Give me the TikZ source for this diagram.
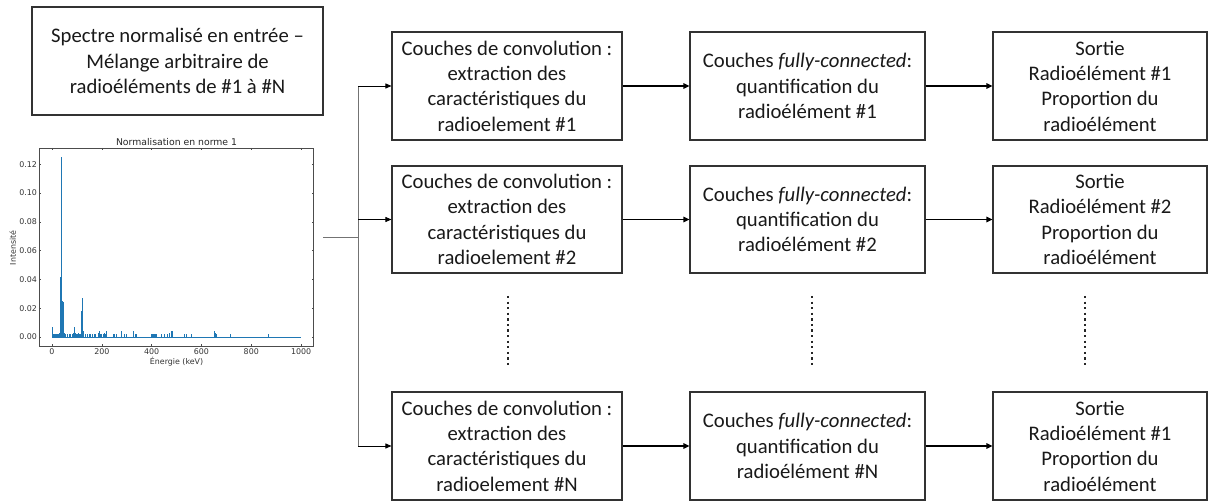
\documentclass[tikz,border=0pt]{standalone}
\usepackage{fontspec}
\setmainfont{Carlito}
\newfontfamily\plotfont{DejaVu Sans}
\usetikzlibrary{arrows.meta}
\definecolor{mplblue}{RGB}{31,119,180}
\definecolor{boxline}{RGB}{50,50,50}
\tikzset{
  blk/.style={draw=boxline, line width=1.1pt, align=center, inner sep=2pt,
    font=\fontsize{20.7pt}{25.3pt}\selectfont, text=black!90},
  feed/.style={draw=black!55, line width=0.8pt},
  thinarrow/.style={draw=black, line width=0.8pt, -{Triangle[length=6pt,width=5pt]}},
  thickarrow/.style={draw=black, line width=1.6pt, -{Triangle[length=6pt,width=5.5pt]}},
  dotline/.style={draw=black!85, line width=2.2pt, dash pattern=on 2.2pt off 3.38pt},
  ticklab/.style={font=\plotfont\fontsize{7.9pt}{9pt}\selectfont, text=black!80, inner sep=1pt},
  spike/.style={draw=mplblue, line width=0.7pt},
}
\begin{document}
\begin{tikzpicture}[x=1pt, y=-1pt]
\useasboundingbox (0,0) rectangle (1208,502);

% input box
\node[blk, minimum width=291pt, minimum height=108pt] (inbox) at (177.5,61)
  {Spectre normalisé en entrée –\\Mélange arbitraire de\\radioéléments de \#1 à \#N};

% spectrum plot
\begin{scope}[shift={(52pt,-337pt)}, x=0.2491pt, y=1440pt]
  \draw[black!70, line width=0.6pt] (-50,-0.00625) rectangle (1050,0.13125);
  \foreach \e in {0,200,400,600,800,1000} {
    \draw[black!70, line width=0.5pt] (\e,-0.00625) -- ++(0,0.0015);
    \draw[black!70, line width=0.5pt] (\e,0.13125) -- ++(0,-0.0015);
    \node[ticklab, anchor=north] (xt\e) at (\e,-0.0072) {\e};
  }
  \foreach \v/\l in {0/0.00,0.02/0.02,0.04/0.04,0.06/0.06,0.08/0.08,0.10/0.10,0.12/0.12} {
    \draw[black!70, line width=0.5pt] (-50,\v) -- ++(7,0);
    \draw[black!70, line width=0.5pt] (1050,\v) -- ++(-7,0);
    \node[ticklab, anchor=east] (yt\l) at (-56,\v) {\l};
  }
  \node[font=\plotfont\fontsize{9.3pt}{10pt}\selectfont, text=black!85, anchor=south, inner sep=1pt] (ptitle) at (500,0.1322) {Normalisation en norme 1};
  \node[ticklab] (xlab) at (500,-0.0168) {Énergie (keV)};
  \node[ticklab, rotate=90] (ylab) at (-157,0.0618) {Intensité};
  \draw[spike] (0,0) -- (1000,0);
  \foreach \e/\h in {2/0.007,6/0.002,10/0.002,14/0.002,18/0.002,22/0.002,26/0.002,30/0.003,
     32/0.042,34/0.042,36/0.006,37/0.125,38/0.125,40/0.008,42/0.025,44/0.024,46/0.004,49/0.003,
     55/0.002,62/0.002,68/0.002,74/0.002,80/0.002,85/0.003,90/0.007,93/0.003,97/0.002,102/0.002,
     106/0.003,110/0.002,114/0.002,118/0.018,120/0.027,123/0.027,127/0.004,133/0.002,140/0.002,
     150/0.002,155/0.002,160/0.002,170/0.002,176/0.002,185/0.003,190/0.004,194/0.002,200/0.002,
     205/0.002,210/0.003,215/0.002,220/0.004,245/0.002,250/0.002,258/0.002,280/0.004,
     290/0.002,300/0.002,325/0.004,335/0.002,340/0.002,400/0.002,404/0.002,408/0.002,
     412/0.002,416/0.002,420/0.002,440/0.002,450/0.002,465/0.002,470/0.003,480/0.004,
     484/0.004,530/0.002,540/0.002,560/0.002,650/0.004,653/0.003,656/0.003,660/0.002,
     715/0.002,870/0.002} {
    \draw[spike] (\e,0) -- (\e,\h);
  }
\end{scope}

% column 1: convolution
\node[blk, minimum width=230pt, minimum height=108pt] (c1r1) at (507,86)
  {Couches de convolution :\\extraction des\\caractéristiques du\\radioelement \#1};
\node[blk, minimum width=230pt, minimum height=107pt] (c1r2) at (507,219.5)
  {Couches de convolution :\\extraction des\\caractéristiques du\\radioelement \#2};
\node[blk, minimum width=230pt, minimum height=108pt] (c1rN) at (507,446)
  {Couches de convolution :\\extraction des\\caractéristiques du\\radioelement \#N};

% column 2: fully connected
\node[blk, minimum width=235pt, minimum height=108pt] (c2r1) at (807.5,86)
  {Couches \textit{fully-connected}:\\quantification du\\radioélément \#1};
\node[blk, minimum width=235pt, minimum height=107pt] (c2r2) at (807.5,219.5)
  {Couches \textit{fully-connected}:\\quantification du\\radioélément \#2};
\node[blk, minimum width=235pt, minimum height=108pt] (c2rN) at (807.5,446)
  {Couches \textit{fully-connected}:\\quantification du\\radioélément \#N};

% column 3: output
\node[blk, minimum width=214pt, minimum height=108pt] (c3r1) at (1100,86)
  {Sortie\\Radioélément \#1\\Proportion du\\radioélément};
\node[blk, minimum width=214pt, minimum height=107pt] (c3r2) at (1100,219.5)
  {Sortie\\Radioélément \#2\\Proportion du\\radioélément};
\node[blk, minimum width=214pt, minimum height=108pt] (c3rN) at (1100,446)
  {Sortie\\Radioélément \#1\\Proportion du\\radioélément};

% feed connectors
\coordinate (plotout) at (323,237);
\coordinate (split) at (358,237);
\draw[feed] (plotout) -- (split);
\draw[feed] (split |- c1r1.west) -- (split |- c1rN.west);
\draw[thinarrow] (split |- c1r1.west) -- (c1r1.west);
\draw[thinarrow] (split |- c1r2.west) -- (c1r2.west);
\draw[thinarrow] (split |- c1rN.west) -- (c1rN.west);

% row arrows
\draw[thickarrow] (c1r1.east) -- (c2r1.west);
\draw[thickarrow] (c1r2.east) -- (c2r2.west);
\draw[thickarrow] (c1rN.east) -- (c2rN.west);
\draw[thickarrow] (c2r1.east) -- (c3r1.west);
\draw[thickarrow] (c2r2.east) -- (c3r2.west);
\draw[thickarrow] (c2rN.east) -- (c3rN.west);

% ellipsis dots
\coordinate (d1a) at (508,296); \coordinate (d1b) at (508,366);
\coordinate (d2a) at (812,296); \coordinate (d2b) at (812,366);
\coordinate (d3a) at (1085,296); \coordinate (d3b) at (1085,366);
\draw[dotline] (d1a) -- (d1b);
\draw[dotline] (d2a) -- (d2b);
\draw[dotline] (d3a) -- (d3b);
\end{tikzpicture}
\end{document}
